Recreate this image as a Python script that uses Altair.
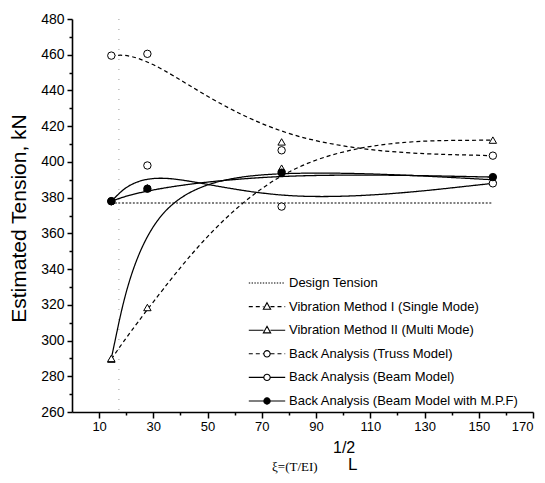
import altair as alt
import pandas as pd

# ---------------- data ----------------
x_pos = [14.5, 27.8, 77.3, 155.2]
series_names = [
    "Design Tension",
    "Vibration Method I (Single Mode)",
    "Vibration Method II (Multi Mode)",
    "Back Analysis (Truss Model)",
    "Back Analysis (Beam Model)",
    "Back Analysis (Beam Model with M.P.F)",
]
design_tension = [377.0, 377.0, 377.0, 377.0]
vib_single = [289.6, 318.5, 411.2, 412.2]
vib_multi = [290.0, 385.5, 396.5, 390.0]
truss = [459.5, 460.5, 406.5, 403.5]
beam = [378.0, 398.0, 375.0, 388.0]
beam_mpf = [378.0, 385.0, 394.0, 391.5]
series_values = [design_tension, vib_single, vib_multi, truss, beam, beam_mpf]

x_major = [10, 30, 50, 70, 90, 110, 130, 150, 170]
x_minor = [20, 40, 60, 80, 100, 120, 140, 160]
y_major = [260, 280, 300, 320, 340, 360, 380, 400, 420, 440, 460, 480]
y_minor = [270, 290, 310, 330, 350, 370, 390, 410, 430, 450, 470]
artifact_x = [17.3]

# ---------------- styles ----------------
line_dash = [[2, 1.6], [4, 3], [1, 0], [4, 3], [1, 0], [1, 0]]
line_width = [1.2, 1.3, 1.5, 1.3, 1.5, 2.4]
markers = [None, "triangle", "triangle", "circle", "circle", "circle"]
legend_style = ["dotted", "dashed", "solid", "dashed", "solid", "solid"]
legend_fill = ["white", "white", "white", "white", "white", "black"]
legend_stroke = ["black"] * 6

rows = []
for name, vals in zip(series_names, series_values):
    for xv, yv in zip(x_pos, vals):
        rows.append({"series": name, "x": xv, "y": yv})
df = pd.DataFrame(rows)
df_pts = df[df["series"] != series_names[0]]


def legend_path(style, marker):
    L = 2.6
    g = 0.5 if marker else 0.0
    segs = []

    def add_line(a, b):
        if style == "solid":
            segs.append(f"M{a:.2f},0H{b:.2f}")
            return
        dash, gap = (0.57, 0.43) if style == "dashed" else (0.2, 0.2)
        x = a
        while x < b - 1e-6:
            e = min(x + dash, b)
            segs.append(f"M{x:.2f},0H{e:.2f}")
            x = e + gap

    if marker:
        add_line(-L, -g)
        add_line(g, L)
    else:
        add_line(-L, L)
    if marker == "circle":
        segs.append("M0.45,0A0.45,0.45,0,1,1,-0.45,0A0.45,0.45,0,1,1,0.45,0Z")
    elif marker == "triangle":
        segs.append("M0,-0.55L0.52,0.38L-0.52,0.38Z")
    return "".join(segs)


legend_paths = [legend_path(s, m) for s, m in zip(legend_style, markers)]

xs = alt.Scale(domain=[0, 170], nice=False, zero=False)
ys = alt.Scale(domain=[260, 480], nice=False, zero=False)

x_axis = alt.Axis(values=x_major, title=None, tickSize=6, labelPadding=2,
                  orient="bottom", format="d", labelFontSize=13)
y_axis = alt.Axis(values=y_major, title="Estimated Tension, kN", tickSize=5,
                  labelPadding=3, orient="left", format="d", labelFontSize=14,
                  titleFont="Liberation Sans", titleFontSize=21,
                  titleFontWeight="normal", titleColor="black",
                  titleAngle=-90, titleBaseline="alphabetic", titleAlign="center",
                  titleX=-47, titleY=199)
x_axis_minor = alt.Axis(values=x_minor, title=None, labels=False, domain=False,
                        tickSize=3, orient="bottom")
y_axis_minor = alt.Axis(values=y_minor, title=None, labels=False, domain=False,
                        tickSize=3, orient="left")

lines = alt.Chart(df).mark_line(interpolate="basis", color="black").encode(
    x=alt.X("x:Q", scale=xs, axis=x_axis),
    y=alt.Y("y:Q", scale=ys, axis=y_axis),
    detail="series:N",
    strokeDash=alt.StrokeDash("series:N", scale=alt.Scale(domain=series_names, range=line_dash), legend=None),
    strokeWidth=alt.StrokeWidth("series:N", scale=alt.Scale(domain=series_names, range=line_width), legend=None),
)

shape_range = ["triangle-up", "triangle-up", "circle", "circle", "circle"]
points = alt.Chart(df_pts).mark_point(filled=True, stroke="black", strokeWidth=1,
                                      size=55, opacity=1, fillOpacity=1).encode(
    x=alt.X("x:Q", scale=xs, axis=None),
    y=alt.Y("y:Q", scale=ys, axis=None),
    shape=alt.Shape("series:N", scale=alt.Scale(domain=series_names[1:], range=shape_range), legend=None),
    fill=alt.Fill("series:N", scale=alt.Scale(domain=series_names[1:], range=legend_fill[1:]), legend=None),
)

leg = alt.Legend(title=None, orient="none", legendX=187, legendY=256,
                 symbolSize=196, symbolStrokeColor="black", symbolStrokeWidth=1.1,
                 symbolOpacity=1, labelOffset=14, rowPadding=8.6, padding=0,
                 labelFont="Liberation Sans", labelFontSize=13, labelColor="black",
                 labelLimit=400)

legend_layer = alt.Chart(df).transform_filter("false").mark_point(
    filled=False, color="black", strokeWidth=1.1, size=196, opacity=1).encode(
    x=alt.X("x:Q", scale=xs, axis=None),
    y=alt.Y("y:Q", scale=ys, axis=None),
    shape=alt.Shape("series:N", scale=alt.Scale(domain=series_names, range=legend_paths), legend=leg),
    fill=alt.Fill("series:N", scale=alt.Scale(domain=series_names, range=legend_fill), legend=leg),
    stroke=alt.Stroke("series:N", scale=alt.Scale(domain=series_names, range=legend_stroke), legend=leg),
)

minor_layer = alt.Chart(df).transform_filter("false").mark_point().encode(
    x=alt.X("x:Q", scale=xs, axis=x_axis_minor),
    y=alt.Y("y:Q", scale=ys, axis=y_axis_minor),
)

artifact = alt.Chart(pd.DataFrame({"x": artifact_x})).mark_rule(
    color="#9a9a9a", strokeDash=[1, 9], strokeWidth=1).encode(
    x=alt.X("x:Q", scale=xs, axis=None),
)

t1 = alt.Chart(pd.DataFrame({"t": ["ξ=(T/EI)"]})).mark_text(
    font="Liberation Serif", fontSize=13, align="left", baseline="alphabetic", color="black").encode(
    x=alt.value(200), y=alt.value(452), text="t:N")
t2 = alt.Chart(pd.DataFrame({"t": ["1/2"]})).mark_text(
    font="Liberation Sans", fontSize=16, align="left", baseline="alphabetic", color="black").encode(
    x=alt.value(261), y=alt.value(434), text="t:N")
t3 = alt.Chart(pd.DataFrame({"t": ["L"]})).mark_text(
    font="Liberation Sans", fontSize=17, align="left", baseline="alphabetic", color="black").encode(
    x=alt.value(276), y=alt.value(451), text="t:N")

chart = alt.layer(artifact, lines, points, legend_layer, minor_layer, t1, t2, t3).resolve_scale(
    shape="independent", fill="independent", stroke="independent"
).resolve_axis(x="independent", y="independent").properties(
    width=461, height=393,
    autosize=alt.AutoSizeParams(type="none"),
    padding={"left": 64, "top": 11, "right": 4, "bottom": 64},
).configure_view(stroke=None).configure_axis(
    labelFont="Liberation Sans", labelColor="black",
    domainColor="black", tickColor="black", domainWidth=1.6, tickWidth=1.5, grid=False,
)

chart.save("out.html", embed_options={"renderer": "svg", "actions": False})
